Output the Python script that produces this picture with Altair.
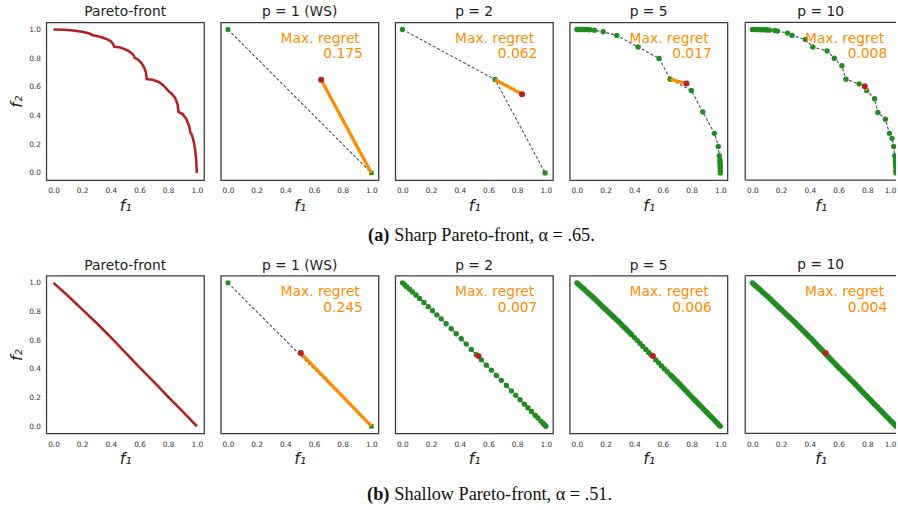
import altair as alt
import pandas as pd

TICKS = [0.0, 0.2, 0.4, 0.6, 0.8, 1.0]
DOM = [-0.05, 1.05]
DOM_LAST = [-0.05, 1.0]   # right-most panel is cut by the page edge

# ---------------- (a) Sharp Pareto-front ----------------
sharp_front_f1 = [0.000, 0.080, 0.150, 0.200, 0.250, 0.270, 0.285, 0.330, 0.370, 0.400,
                  0.415, 0.425, 0.460, 0.500, 0.530, 0.555, 0.565, 0.590, 0.615, 0.635,
                  0.645, 0.650, 0.690, 0.730, 0.765, 0.790, 0.800, 0.825, 0.850, 0.865,
                  0.872, 0.900, 0.925, 0.945, 0.955, 0.965, 0.978, 0.988, 0.995, 1.000]
sharp_front_f2 = [1.000, 0.998, 0.992, 0.984, 0.972, 0.962, 0.958, 0.948, 0.934, 0.918,
                  0.900, 0.880, 0.876, 0.862, 0.846, 0.826, 0.805, 0.790, 0.764, 0.730,
                  0.700, 0.655, 0.650, 0.636, 0.612, 0.585, 0.572, 0.552, 0.520, 0.480,
                  0.425, 0.410, 0.378, 0.330, 0.280, 0.265, 0.220, 0.160, 0.090, 0.000]

sharp_p1_f1 = [0.0, 1.0]
sharp_p1_f2 = [1.0, 0.0]
sharp_p1_red = [0.65, 0.65]
sharp_p1_near = [1.0, 0.0]

sharp_p2_f1 = [0.0, 0.646, 0.995]
sharp_p2_f2 = [1.0, 0.651, 0.0]
sharp_p2_red = [0.834, 0.549]
sharp_p2_near = [0.646, 0.651]

sharp_p5_f1 = [0.0, 0.01, 0.02, 0.03, 0.04, 0.05, 0.06, 0.075, 0.09, 0.122, 0.183, 0.278,
               0.427, 0.573, 0.651, 0.798, 0.878, 0.959, 0.986, 0.993,
               0.997, 0.998, 0.999, 1.0, 1.0, 1.0, 1.0]
sharp_p5_f2 = [1.0, 1.0, 1.0, 1.0, 1.0, 1.0, 1.0, 0.999, 0.998, 0.995, 0.984, 0.959,
               0.878, 0.798, 0.653, 0.575, 0.425, 0.276, 0.184, 0.120,
               0.090, 0.075, 0.060, 0.045, 0.030, 0.015, 0.0]
sharp_p5_red = [0.764, 0.623]
sharp_p5_near = [0.651, 0.653]

sharp_p10_f1 = [0.0, 0.015, 0.03, 0.045, 0.06, 0.075, 0.09, 0.105, 0.12, 0.156, 0.175,
                0.244, 0.276, 0.370, 0.421, 0.520, 0.570, 0.623, 0.651, 0.743, 0.795,
                0.851, 0.874, 0.926, 0.954, 0.972, 0.984, 0.991,
                0.995, 0.997, 0.998, 0.999, 1.0, 1.0, 1.0]
sharp_p10_f2 = [1.0, 1.0, 1.0, 0.999, 0.999, 0.999, 0.998, 0.997, 0.996, 0.993, 0.989,
                0.975, 0.959, 0.931, 0.878, 0.851, 0.800, 0.747, 0.653, 0.621, 0.575,
                0.517, 0.421, 0.375, 0.276, 0.241, 0.184, 0.120,
                0.090, 0.075, 0.060, 0.045, 0.030, 0.015, 0.0]
sharp_p10_red = [0.782, 0.605]
sharp_p10_near = [0.795, 0.575]

sharp_regret = ["0.175", "0.062", "0.017", "0.008"]

# ---------------- (b) Shallow Pareto-front ----------------
shallow_front_f1 = [0.0, 0.1, 0.2, 0.3, 0.4, 0.5, 0.6, 0.7, 0.8, 0.9, 1.0]
shallow_front_f2 = [1.0, 0.91, 0.815, 0.72, 0.62, 0.515, 0.41, 0.31, 0.205, 0.103, 0.0]

shallow_p1_f1 = [0.0, 1.0]
shallow_p1_f2 = [1.0, 0.0]
shallow_p1_red = [0.508, 0.510]
shallow_p1_near = [1.0, 0.0]

shallow_p2_f1 = [0.0, 0.015, 0.03, 0.05, 0.07, 0.095, 0.12, 0.15, 0.18, 0.21, 0.24, 0.27,
                 0.305, 0.34, 0.375, 0.41, 0.445, 0.48, 0.515, 0.55, 0.585, 0.62, 0.655,
                 0.69, 0.725, 0.76, 0.79, 0.82, 0.85, 0.875, 0.9, 0.925, 0.945, 0.965,
                 0.98, 0.99, 1.0]
shallow_p2_f2 = [1.0, 0.987, 0.973, 0.955, 0.937, 0.915, 0.891, 0.863, 0.834, 0.806,
                 0.777, 0.749, 0.715, 0.680, 0.645, 0.610, 0.573, 0.536, 0.499, 0.463,
                 0.426, 0.390, 0.355, 0.320, 0.284, 0.247, 0.216, 0.185, 0.154, 0.129,
                 0.103, 0.077, 0.057, 0.036, 0.021, 0.010, 0.0]
shallow_p2_red = [0.530, 0.490]
shallow_p2_near = [0.515, 0.499]

shallow_p5_f1 = [0.00, 0.01, 0.02, 0.03, 0.04, 0.05, 0.06, 0.07, 0.08, 0.09,
                 0.10, 0.11, 0.12, 0.13, 0.14, 0.15, 0.16, 0.17, 0.18, 0.19,
                 0.20, 0.21, 0.22, 0.23, 0.24, 0.25, 0.26, 0.27, 0.28, 0.29,
                 0.30, 0.31, 0.32, 0.33, 0.34, 0.35, 0.36, 0.37,
                 0.38, 0.40, 0.42, 0.44, 0.46, 0.48, 0.50, 0.515, 0.55, 0.57,
                 0.59, 0.61, 0.63,
                 0.65, 0.66, 0.67, 0.68, 0.69, 0.70, 0.71, 0.72, 0.73, 0.74,
                 0.75, 0.76, 0.77, 0.78, 0.79, 0.80, 0.81, 0.82, 0.83, 0.84,
                 0.85, 0.86, 0.87, 0.88, 0.89, 0.90, 0.91, 0.92, 0.93, 0.94,
                 0.95, 0.96, 0.97, 0.98, 0.99, 1.00]
shallow_p5_f2 = [1.000, 0.991, 0.982, 0.973, 0.964, 0.955, 0.946, 0.937, 0.928, 0.919,
                 0.910, 0.901, 0.891, 0.882, 0.872, 0.863, 0.853, 0.844, 0.834, 0.825,
                 0.815, 0.806, 0.796, 0.787, 0.777, 0.768, 0.758, 0.749, 0.739, 0.730,
                 0.720, 0.710, 0.700, 0.690, 0.680, 0.670, 0.660, 0.650,
                 0.640, 0.620, 0.599, 0.578, 0.557, 0.536, 0.515, 0.499, 0.463, 0.442,
                 0.421, 0.400, 0.380,
                 0.360, 0.350, 0.340, 0.330, 0.320, 0.310, 0.300, 0.289, 0.279, 0.268,
                 0.258, 0.247, 0.237, 0.226, 0.216, 0.205, 0.195, 0.185, 0.174, 0.164,
                 0.154, 0.144, 0.134, 0.123, 0.113, 0.103, 0.093, 0.082, 0.072, 0.062,
                 0.052, 0.041, 0.031, 0.021, 0.010, 0.000]
shallow_p5_red = [0.530, 0.490]
shallow_p5_near = [0.515, 0.499]

shallow_p10_f1 = [0.00, 0.01, 0.02, 0.03, 0.04, 0.05, 0.06, 0.07, 0.08, 0.09,
                  0.10, 0.11, 0.12, 0.13, 0.14, 0.15, 0.16, 0.17, 0.18, 0.19,
                  0.20, 0.21, 0.22, 0.23, 0.24, 0.25, 0.26, 0.27, 0.28, 0.29,
                  0.30, 0.31, 0.32, 0.33, 0.34, 0.35, 0.36, 0.37, 0.38, 0.39,
                  0.40, 0.41, 0.42, 0.43, 0.44, 0.45, 0.46, 0.47, 0.48, 0.49,
                  0.50, 0.51, 0.52, 0.53, 0.54, 0.55, 0.56, 0.57, 0.58, 0.59,
                  0.60, 0.61, 0.62, 0.63, 0.64, 0.65, 0.66, 0.67, 0.68, 0.69,
                  0.70, 0.71, 0.72, 0.73, 0.74, 0.75, 0.76, 0.77, 0.78, 0.79,
                  0.80, 0.81, 0.82, 0.83, 0.84, 0.85, 0.86, 0.87, 0.88, 0.89,
                  0.90, 0.91, 0.92, 0.93, 0.94, 0.95, 0.96, 0.97, 0.98, 0.99, 1.00]
shallow_p10_f2 = [1.000, 0.991, 0.982, 0.973, 0.964, 0.955, 0.946, 0.937, 0.928, 0.919,
                  0.910, 0.901, 0.891, 0.882, 0.872, 0.863, 0.853, 0.844, 0.834, 0.825,
                  0.815, 0.806, 0.796, 0.787, 0.777, 0.768, 0.758, 0.749, 0.739, 0.730,
                  0.720, 0.710, 0.700, 0.690, 0.680, 0.670, 0.660, 0.650, 0.640, 0.630,
                  0.620, 0.610, 0.599, 0.589, 0.578, 0.568, 0.557, 0.547, 0.536, 0.526,
                  0.515, 0.505, 0.494, 0.484, 0.473, 0.463, 0.452, 0.442, 0.431, 0.421,
                  0.410, 0.400, 0.390, 0.380, 0.370, 0.360, 0.350, 0.340, 0.330, 0.320,
                  0.310, 0.300, 0.289, 0.279, 0.268, 0.258, 0.247, 0.237, 0.226, 0.216,
                  0.205, 0.195, 0.185, 0.174, 0.164, 0.154, 0.144, 0.134, 0.123, 0.113,
                  0.103, 0.093, 0.082, 0.072, 0.062, 0.052, 0.041, 0.031, 0.021, 0.010, 0.000]
shallow_p10_red = [0.510, 0.510]
shallow_p10_near = [0.505, 0.505]

shallow_regret = ["0.245", "0.007", "0.006", "0.004"]

titles = ["Pareto-front", "p = 1 (WS)", "p = 2", "p = 5", "p = 10"]
captions = [("(a)", "Sharp Pareto-front, \u03b1 = .65."),
            ("(b)", "Shallow Pareto-front, \u03b1 = .51.")]

RED = "#b22222"
GREEN = "#228b22"
ORANGE = "#ff8c00"
EDGE = "#3c3c3c"
W = 160
W_LAST = 153
H = 160


def encs(first, dom, last=False):
    sc = alt.Scale(domain=dom, nice=False, zero=False)
    ysc = alt.Scale(domain=DOM, nice=False, zero=False)
    xaxis = alt.Axis(values=TICKS, format=".1f", title="f\u2081", grid=False, domain=False,
                     ticks=False, labelFontSize=7.5, labelColor="#333", labelPadding=7,
                     labelFont="DejaVu Sans", titleFont="DejaVu Sans", titleFontSize=16,
                     titleFontStyle="italic", titleFontWeight="normal", titleColor="#222",
                     titlePadding=3, labelFlush=last)
    x = alt.X("f1:Q", scale=sc, axis=xaxis)
    if first:
        yaxis = alt.Axis(values=TICKS, format=".1f", title="f\u2082", grid=False, domain=False,
                         ticks=False, labelFontSize=7.5, labelColor="#333", labelPadding=6,
                         labelFont="DejaVu Sans", titleFont="DejaVu Sans", titleFontSize=16,
                         titleFontStyle="italic", titleFontWeight="normal", titleColor="#222",
                         titlePadding=4)
        y = alt.Y("f2:Q", scale=ysc, axis=yaxis)
    else:
        y = alt.Y("f2:Q", scale=ysc, axis=None)
    return x, y


def title_params(t):
    return alt.TitleParams(t, font="DejaVu Sans", fontSize=14, fontWeight="normal",
                           color="#222", offset=3)


def front_panel(f1, f2, t):
    x, y = encs(True, DOM)
    df = pd.DataFrame({"f1": f1, "f2": f2, "i": list(range(len(f1)))})
    return alt.Chart(df).mark_line(color=RED, strokeWidth=2.6).encode(
        x=x, y=y, order="i:Q").properties(width=W, height=H, title=title_params(t))


def approx_panel(f1, f2, red, near, regret, t, square=False, last=False):
    dom = DOM_LAST if last else DOM
    w = W_LAST if last else W
    x, y = encs(False, dom, last)
    pts = pd.DataFrame({"f1": f1, "f2": f2, "i": list(range(len(f1)))})
    seg = pd.DataFrame({"f1": [near[0], red[0]], "f2": [near[1], red[1]], "i": [0, 1]})
    rd = pd.DataFrame({"f1": [red[0]], "f2": [red[1]]})
    dashed = alt.Chart(pts).mark_line(color="#4d4d4d", strokeWidth=1.1, strokeDash=[3, 2],
                                      clip=last).encode(x=x, y=y, order="i:Q")
    green = alt.Chart(pts).mark_point(filled=True, shape="square" if square else "circle",
                                      size=22 if square else 30, color=GREEN, opacity=1,
                                      clip=last).encode(x=x, y=y)
    orange = alt.Chart(seg).mark_line(color=ORANGE, strokeWidth=3.3, clip=last).encode(
        x=x, y=y, order="i:Q")
    redpt = alt.Chart(rd).mark_point(filled=True, shape="circle", size=38, color=RED,
                                     opacity=1, clip=last).encode(x=x, y=y)
    txt = pd.DataFrame({"a": ["Max. regret"], "b": [regret]})
    t1 = alt.Chart(txt).mark_text(align="right", baseline="alphabetic", fontSize=14,
                                  font="DejaVu Sans", color=ORANGE).encode(
        text="a:N", x=alt.value(141), y=alt.value(21))
    t2 = alt.Chart(txt).mark_text(align="right", baseline="alphabetic", fontSize=14,
                                  font="DejaVu Sans", color=ORANGE).encode(
        text="b:N", x=alt.value(144), y=alt.value(36.5))
    layers = [dashed, green, orange, redpt, t1, t2]
    props = dict(width=w, height=H, title=title_params(t))
    if last:
        # the page edge cuts this panel: draw only its left, top and bottom edges
        edge = alt.Chart(txt).mark_rule(color=EDGE, strokeWidth=1.3)
        layers += [
            edge.encode(x=alt.value(0), y=alt.value(0), y2=alt.value(H)),
            edge.encode(x=alt.value(0), x2=alt.value(w), y=alt.value(0)),
            edge.encode(x=alt.value(0), x2=alt.value(w), y=alt.value(H)),
        ]
        props["view"] = alt.ViewBackground(stroke="transparent")
    return alt.layer(*layers).properties(**props)


def caption(lbl, txt, ypos, h):
    df = pd.DataFrame({"l": [lbl], "t": [txt]})
    c1 = alt.Chart(df).mark_text(align="right", baseline="middle", fontSize=18.5,
                                 font="Liberation Serif", fontWeight="bold", color="#111").encode(
        text="l:N", x=alt.value(348), y=alt.value(ypos))
    c2 = alt.Chart(df).mark_text(align="left", baseline="middle", fontSize=18.5,
                                 font="Liberation Serif", color="#111").encode(
        text="t:N", x=alt.value(353), y=alt.value(ypos))
    return alt.layer(c1, c2).properties(width=840, height=h,
                                        view=alt.ViewBackground(stroke="transparent"))


row1 = alt.hconcat(
    front_panel(sharp_front_f1, sharp_front_f2, titles[0]),
    approx_panel(sharp_p1_f1, sharp_p1_f2, sharp_p1_red, sharp_p1_near, sharp_regret[0], titles[1], square=True),
    approx_panel(sharp_p2_f1, sharp_p2_f2, sharp_p2_red, sharp_p2_near, sharp_regret[1], titles[2]),
    approx_panel(sharp_p5_f1, sharp_p5_f2, sharp_p5_red, sharp_p5_near, sharp_regret[2], titles[3]),
    approx_panel(sharp_p10_f1, sharp_p10_f2, sharp_p10_red, sharp_p10_near, sharp_regret[3], titles[4], last=True),
    spacing=15)

row2 = alt.hconcat(
    front_panel(shallow_front_f1, shallow_front_f2, titles[0]),
    approx_panel(shallow_p1_f1, shallow_p1_f2, shallow_p1_red, shallow_p1_near, shallow_regret[0], titles[1], square=True),
    approx_panel(shallow_p2_f1, shallow_p2_f2, shallow_p2_red, shallow_p2_near, shallow_regret[1], titles[2]),
    approx_panel(shallow_p5_f1, shallow_p5_f2, shallow_p5_red, shallow_p5_near, shallow_regret[2], titles[3]),
    approx_panel(shallow_p10_f1, shallow_p10_f2, shallow_p10_red, shallow_p10_near, shallow_regret[3], titles[4], last=True),
    spacing=15)

cap1 = caption(captions[0][0], captions[0][1], 20, 41)
cap2 = caption(captions[1][0], captions[1][1], 26, 36)

chart = alt.vconcat(row1, cap1, row2, cap2, spacing=0).properties(
    padding={"left": 8, "top": 0, "right": 0, "bottom": 0},
    background="white"
).configure_view(stroke=EDGE, strokeWidth=1.3)

chart.save("out.html", embed_options={"renderer": "svg", "actions": False})
